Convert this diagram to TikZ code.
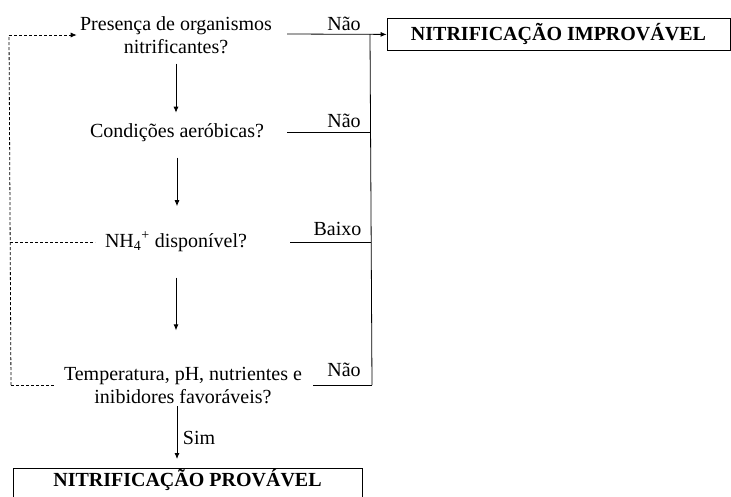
\documentclass[tikz,border=0pt]{standalone}
\usepackage{fontspec}
\setmainfont{Liberation Serif}
\usetikzlibrary{arrows.meta}
\begin{document}
\begin{tikzpicture}[x=1pt,y=-1pt, line width=0.8pt,
  txt/.style={font=\fontsize{20}{23}\selectfont, inner sep=0pt, align=center, anchor=base},
  lbl/.style={font=\fontsize{20}{23}\selectfont, inner sep=0pt, anchor=base},
  arr/.style={-{Latex[length=6pt,width=5pt]}},
  dsh/.style={dash pattern=on 3pt off 2pt},
  bigbox/.style={draw, font=\bfseries\fontsize{20}{23}\selectfont, inner xsep=0pt, inner ysep=4pt, text height=18pt, text depth=6pt, anchor=north}]
\useasboundingbox (0,0) rectangle (731,496);
% questions (base = baseline of the last line)
\node[txt] (q1) at (176,53) {Presença de organismos\\nitrificantes?};
\node[txt] (q2) at (177,137) {Condições aeróbicas?};
\node[txt] (q3) at (176,247) {NH\textsubscript{4}\textsuperscript{+} disponível?};
\node[txt] (q4) at (183,403) {Temperatura, pH, nutrientes e\\inibidores favoráveis?};
% result boxes
\node[bigbox, minimum width=343pt] (imp) at (558.5,18) {NITRIFICAÇÃO IMPROVÁVEL};
\node[bigbox, minimum width=349pt, text height=14pt, text depth=12pt] (prov) at (187.5,468) {NITRIFICAÇÃO PROVÁVEL};
% main flow
\draw[arr, shorten <=10pt, shorten >=10pt] (q1.south) -- (q1.south |- q2.north);
\draw[arr, shorten <=16pt, shorten >=25pt] (q2.south) -- (q2.south |- q3.north);
\draw[arr, shorten <=26pt, shorten >=36pt] (q3.south) -- (q3.south |- q4.north);
\coordinate (simtop) at (177,406);
\draw[arr, shorten >=9pt] (simtop) -- (simtop |- prov.north);
\node[lbl] (sim) at (199,444) {Sim};
% right bus
\coordinate (s1) at (287,34);
\coordinate (j1) at (370,34);
\coordinate (s2) at (287,132);
\coordinate (j2) at (370,132);
\coordinate (s3) at (290,242);
\coordinate (j3) at (371,242);
\coordinate (s4) at (313,385);
\coordinate (j4) at (372,385);
\draw[arr] (s1) -- (imp.west);
\draw (j1) -- (j4);
\draw (s2) -- (j2);
\draw (s3) -- (j3);
\draw (s4) -- (j4);
\node[lbl] (n1) at (344,30) {Não};
\node[lbl] (n2) at (344,127) {Não};
\node[lbl] (n3) at (337.5,235) {Baixo};
\node[lbl] (n4) at (344,376) {Não};
% dashed feedback
\coordinate (d1) at (9,35);
\coordinate (d3) at (10,242);
\coordinate (d4) at (11,385);
\coordinate (e3) at (95,242);
\coordinate (e4) at (55,385);
\draw[dsh] (d4) -- (d1);
\draw[dsh, arr, shorten >=3pt] (d1) -- (d1 -| q1.west);
\draw[dsh] (d3) -- (e3);
\draw[dsh] (d4) -- (e4);
\end{tikzpicture}
\end{document}
